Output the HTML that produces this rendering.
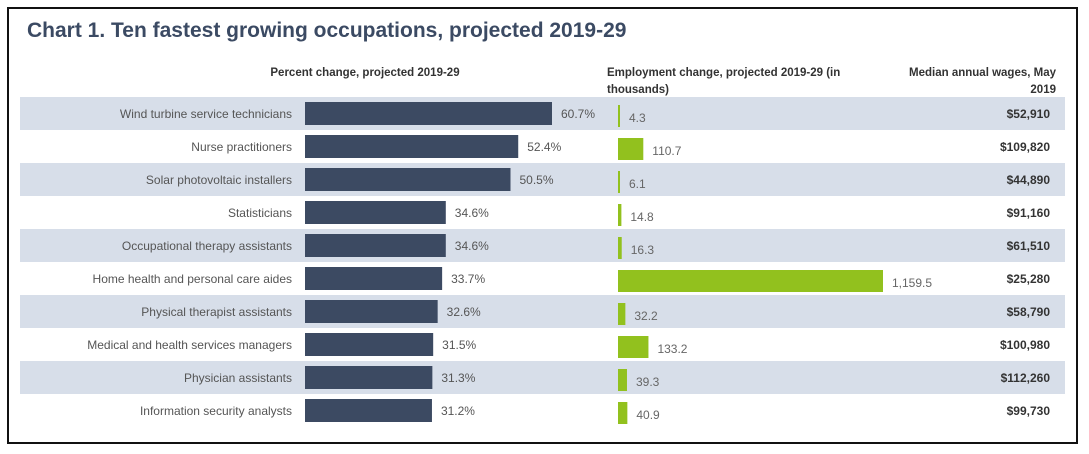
<!DOCTYPE html>
<html><head><meta charset="utf-8"><style>
body{margin:0;background:#fff;}
svg{display:block;font-family:"Liberation Sans",sans-serif;}
</style></head><body>
<svg id="chart" width="1089" height="454">
<rect x="8" y="8" width="1069" height="435" fill="#fff" stroke="#111" stroke-width="2"/>
<text x="27" y="37" font-size="21" font-weight="bold" fill="#3b4a63">Chart 1. Ten fastest growing occupations, projected 2019-29</text>
<text x="365" y="76" font-size="11.5" font-weight="bold" fill="#333" text-anchor="middle">Percent change, projected 2019-29</text>
<text x="607" y="76" font-size="11.5" font-weight="bold" fill="#333"><tspan x="607">Employment change, projected 2019-29 (in</tspan><tspan x="607" dy="17">thousands)</tspan></text>
<text x="1056" y="76" font-size="11.5" font-weight="bold" fill="#333" text-anchor="end"><tspan x="1056">Median annual wages, May</tspan><tspan x="1056" dy="17">2019</tspan></text>
<g id="rows"></g>
</svg>
<script>
const occupations=["Wind turbine service technicians","Nurse practitioners","Solar photovoltaic installers","Statisticians","Occupational therapy assistants","Home health and personal care aides","Physical therapist assistants","Medical and health services managers","Physician assistants","Information security analysts"];
const percentChange=[60.7,52.4,50.5,34.6,34.6,33.7,32.6,31.5,31.3,31.2];
const employmentChange=[4.3,110.7,6.1,14.8,16.3,1159.5,32.2,133.2,39.3,40.9];
const wages=["$52,910","$109,820","$44,890","$91,160","$61,510","$25,280","$58,790","$100,980","$112,260","$99,730"];

const NS="http://www.w3.org/2000/svg";
const g=document.getElementById('rows');
const rowY=i=>97+i*33;
const xPct=v=>v*247/60.7;
const xEmp=v=>v*265/1159.5;
function mk(tag,attrs,txt){const e=document.createElementNS(NS,tag);for(const k in attrs)e.setAttribute(k,attrs[k]);if(txt!==undefined)e.textContent=txt;g.appendChild(e);return e;}
occupations.forEach((name,i)=>{
  const y=rowY(i);
  if(i%2===0){const b=mk('rect',{x:20,y:y,width:1045,height:33,fill:'#d7dee9'});
    
    }
  const l=mk('text',{x:292,y:y+21,'font-size':12,fill:'#555','text-anchor':'end'},name);
  
  
  const pw=xPct(percentChange[i]);
  const pb=mk('rect',{x:305,y:y+5,width:pw,height:23,fill:'#3c4a62'});
  
  
  const pl=mk('text',{x:305+pw+9,y:y+21,'font-size':12,fill:'#555'},percentChange[i].toFixed(1)+'%');
  
  
  const ew=Math.max(2,xEmp(employmentChange[i]));
  const eb=mk('rect',{x:618,y:y+8,width:ew,height:22,fill:'#92c11e'});
  
  
  const el=mk('text',{x:618+ew+9,y:y+25,'font-size':12,fill:'#666'},employmentChange[i].toLocaleString('en-US',{minimumFractionDigits:1,maximumFractionDigits:1}));
  
  
  const wl=mk('text',{x:1050,y:y+21,'font-size':12,'font-weight':'bold',fill:'#333','text-anchor':'end'},wages[i]);
  
  
});
</script>
</body></html>
